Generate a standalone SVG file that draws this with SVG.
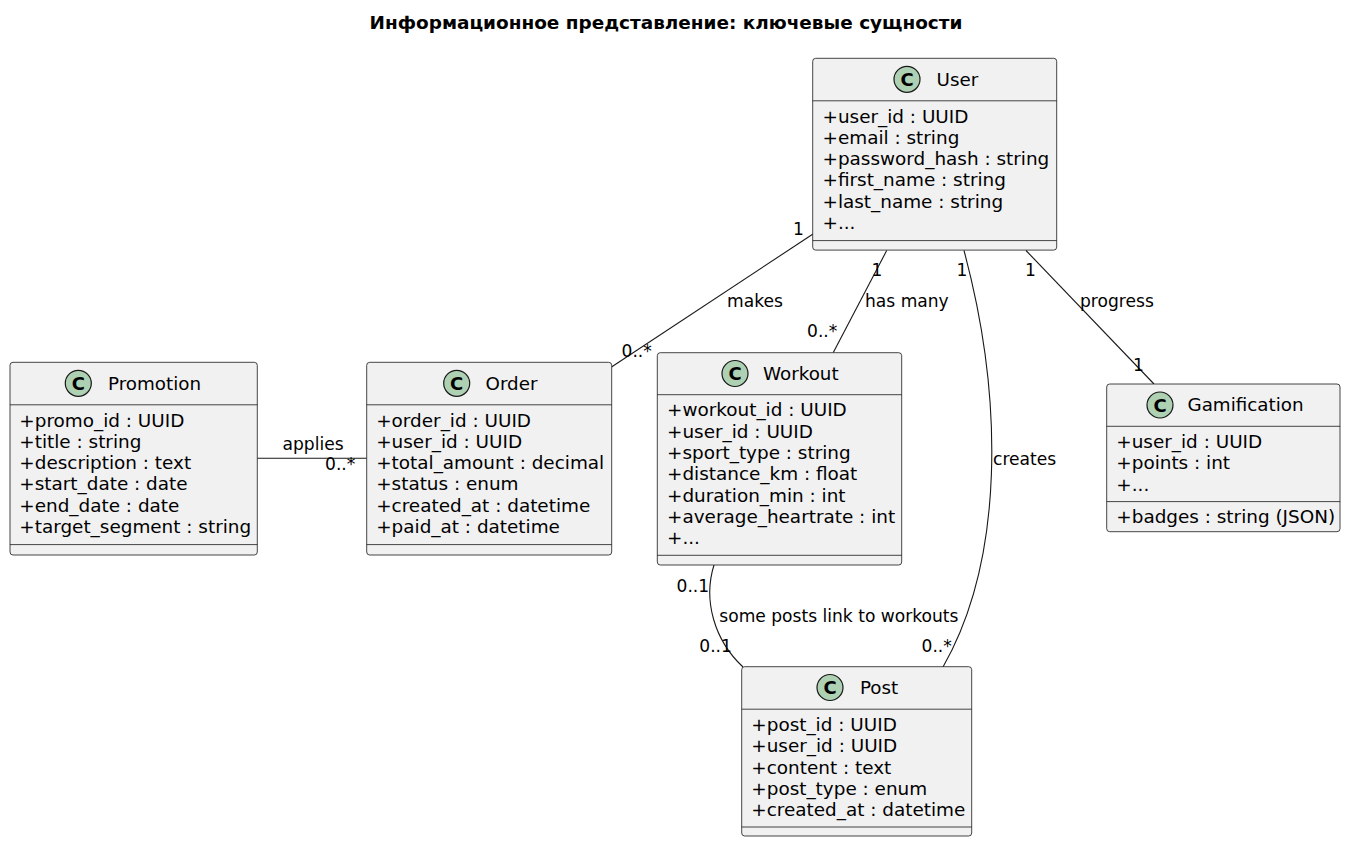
<svg xmlns="http://www.w3.org/2000/svg" width="1348" height="844" viewBox="0 0 1348 844">
<style>
.box{fill:#F1F1F1;stroke:#181818;stroke-width:0.8}
.div{stroke:#181818;stroke-width:0.8}
.sp{fill:#ADD1B2;stroke:#181818;stroke-width:1.2}
.sl{font-family:"DejaVu Sans","Liberation Sans",sans-serif;font-size:18px;font-weight:bold;fill:#000;text-anchor:middle}
.nm{font-family:"DejaVu Sans","Liberation Sans",sans-serif;font-size:18.3px;fill:#000}
.at{font-family:"DejaVu Sans","Liberation Sans",sans-serif;font-size:18.4px;fill:#000}
.lb{font-family:"DejaVu Sans","Liberation Sans",sans-serif;font-size:17.1px;fill:#000}
.ln{fill:none;stroke:#181818;stroke-width:1.1}
.title{font-family:"DejaVu Sans","Liberation Sans",sans-serif;font-size:18.45px;font-weight:bold;fill:#000;text-anchor:middle}
</style>
<rect width="1348" height="844" fill="#FFFFFF"/>
<text class="title" x="666" y="29">Информационное представление: ключевые сущности</text>

<g id="connectors">
  <line class="ln" x1="813" y1="234" x2="611.5" y2="367"/>
  <line class="ln" x1="886.7" y1="250.5" x2="833.3" y2="352.5"/>
  <path class="ln" d="M964,250.5 C1004,400 1004,560 943,667"/>
  <line class="ln" x1="1026" y1="250.5" x2="1154" y2="384"/>
  <line class="ln" x1="257.3" y1="458.3" x2="366.7" y2="458.3"/>
  <path class="ln" d="M714,565 C703,600 714,640 743,667"/>
  <text class="lb" x="793" y="235">1</text>
  <text class="lb" x="727" y="306.5">makes</text>
  <text class="lb" x="621.5" y="356.5">0..*</text>
  <text class="lb" x="871.5" y="276">1</text>
  <text class="lb" x="865" y="307">has many</text>
  <text class="lb" x="807" y="336.5">0..*</text>
  <text class="lb" x="956.5" y="276">1</text>
  <text class="lb" x="993" y="465">creates</text>
  <text class="lb" x="921.5" y="651.5">0..*</text>
  <text class="lb" x="1025" y="276">1</text>
  <text class="lb" x="1080" y="306.5">progress</text>
  <text class="lb" x="1133" y="371">1</text>
  <text class="lb" x="282.5" y="450">applies</text>
  <text class="lb" x="325" y="470">0..*</text>
  <text class="lb" x="676.5" y="591.5">0..1</text>
  <text class="lb" x="719.3" y="621.5">some posts link to workouts</text>
  <text class="lb" x="699.3" y="651.5">0..1</text>
</g>

<g id="User">
  <rect class="box" x="812.7" y="58.3" width="244" height="191.8" rx="3"/>
  <line class="div" x1="812.7" y1="100.8" x2="1056.7" y2="100.8"/>
  <line class="div" x1="812.7" y1="240.6" x2="1056.7" y2="240.6"/>
  <circle class="sp" cx="907" cy="79.3" r="13"/>
  <text class="sl" x="907" y="85.8">C</text>
  <text class="nm" x="936.5" y="85.5">User</text>
  <text class="at" x="822.5" y="122.5">+user_id : UUID</text>
  <text class="at" x="822.5" y="143.8">+email : string</text>
  <text class="at" x="822.5" y="165.1">+password_hash : string</text>
  <text class="at" x="822.5" y="186.4">+first_name : string</text>
  <text class="at" x="822.5" y="207.7">+last_name : string</text>
  <text class="at" x="822.5" y="229">+...</text>
</g>

<g id="Promotion">
  <rect class="box" x="10" y="362.3" width="247.3" height="192.7" rx="3"/>
  <line class="div" x1="10" y1="404.8" x2="257.3" y2="404.8"/>
  <line class="div" x1="10" y1="544.6" x2="257.3" y2="544.6"/>
  <circle class="sp" cx="78.3" cy="383.3" r="13"/>
  <text class="sl" x="78.3" y="389.8">C</text>
  <text class="nm" x="108" y="389.5">Promotion</text>
  <text class="at" x="19.3" y="426.5">+promo_id : UUID</text>
  <text class="at" x="19.3" y="447.8">+title : string</text>
  <text class="at" x="19.3" y="469.1">+description : text</text>
  <text class="at" x="19.3" y="490.4">+start_date : date</text>
  <text class="at" x="19.3" y="511.7">+end_date : date</text>
  <text class="at" x="19.3" y="533">+target_segment : string</text>
</g>

<g id="Order">
  <rect class="box" x="366.7" y="362.3" width="245" height="192.7" rx="3"/>
  <line class="div" x1="366.7" y1="404.8" x2="611.7" y2="404.8"/>
  <line class="div" x1="366.7" y1="544.6" x2="611.7" y2="544.6"/>
  <circle class="sp" cx="456.7" cy="383.3" r="13"/>
  <text class="sl" x="456.7" y="389.8">C</text>
  <text class="nm" x="485.5" y="389.5">Order</text>
  <text class="at" x="376.2" y="426.5">+order_id : UUID</text>
  <text class="at" x="376.2" y="447.8">+user_id : UUID</text>
  <text class="at" x="376.2" y="469.1">+total_amount : decimal</text>
  <text class="at" x="376.2" y="490.4">+status : enum</text>
  <text class="at" x="376.2" y="511.7">+created_at : datetime</text>
  <text class="at" x="376.2" y="533">+paid_at : datetime</text>
</g>

<g id="Workout">
  <rect class="box" x="657.3" y="352.7" width="244.4" height="212.3" rx="3"/>
  <line class="div" x1="657.3" y1="394.7" x2="901.7" y2="394.7"/>
  <line class="div" x1="657.3" y1="555.3" x2="901.7" y2="555.3"/>
  <circle class="sp" cx="735" cy="373.5" r="13"/>
  <text class="sl" x="735" y="380">C</text>
  <text class="nm" x="763" y="379.7">Workout</text>
  <text class="at" x="667" y="416.4">+workout_id : UUID</text>
  <text class="at" x="667" y="437.7">+user_id : UUID</text>
  <text class="at" x="667" y="459">+sport_type : string</text>
  <text class="at" x="667" y="480.3">+distance_km : float</text>
  <text class="at" x="667" y="501.6">+duration_min : int</text>
  <text class="at" x="667" y="522.9">+average_heartrate : int</text>
  <text class="at" x="667" y="544.2">+...</text>
</g>

<g id="Gamification">
  <rect class="box" x="1106.7" y="384" width="233.3" height="147.7" rx="3"/>
  <line class="div" x1="1106.7" y1="426.3" x2="1340" y2="426.3"/>
  <line class="div" x1="1106.7" y1="501.6" x2="1340" y2="501.6"/>
  <circle class="sp" cx="1160" cy="405" r="13"/>
  <text class="sl" x="1160" y="411.5">C</text>
  <text class="nm" x="1187.5" y="411.2">Gamification</text>
  <text class="at" x="1116.3" y="448">+user_id : UUID</text>
  <text class="at" x="1116.3" y="469.3">+points : int</text>
  <text class="at" x="1116.3" y="490.6">+...</text>
  <text class="at" x="1116.3" y="523">+badges : string (JSON)</text>
</g>

<g id="Post">
  <rect class="box" x="741.7" y="666.7" width="230" height="169.3" rx="3"/>
  <line class="div" x1="741.7" y1="709.2" x2="971.7" y2="709.2"/>
  <line class="div" x1="741.7" y1="827" x2="971.7" y2="827"/>
  <circle class="sp" cx="830" cy="687.5" r="13"/>
  <text class="sl" x="830" y="694">C</text>
  <text class="nm" x="860" y="693.7">Post</text>
  <text class="at" x="751.3" y="730.9">+post_id : UUID</text>
  <text class="at" x="751.3" y="752.2">+user_id : UUID</text>
  <text class="at" x="751.3" y="773.5">+content : text</text>
  <text class="at" x="751.3" y="794.8">+post_type : enum</text>
  <text class="at" x="751.3" y="816.1">+created_at : datetime</text>
</g>
</svg>
